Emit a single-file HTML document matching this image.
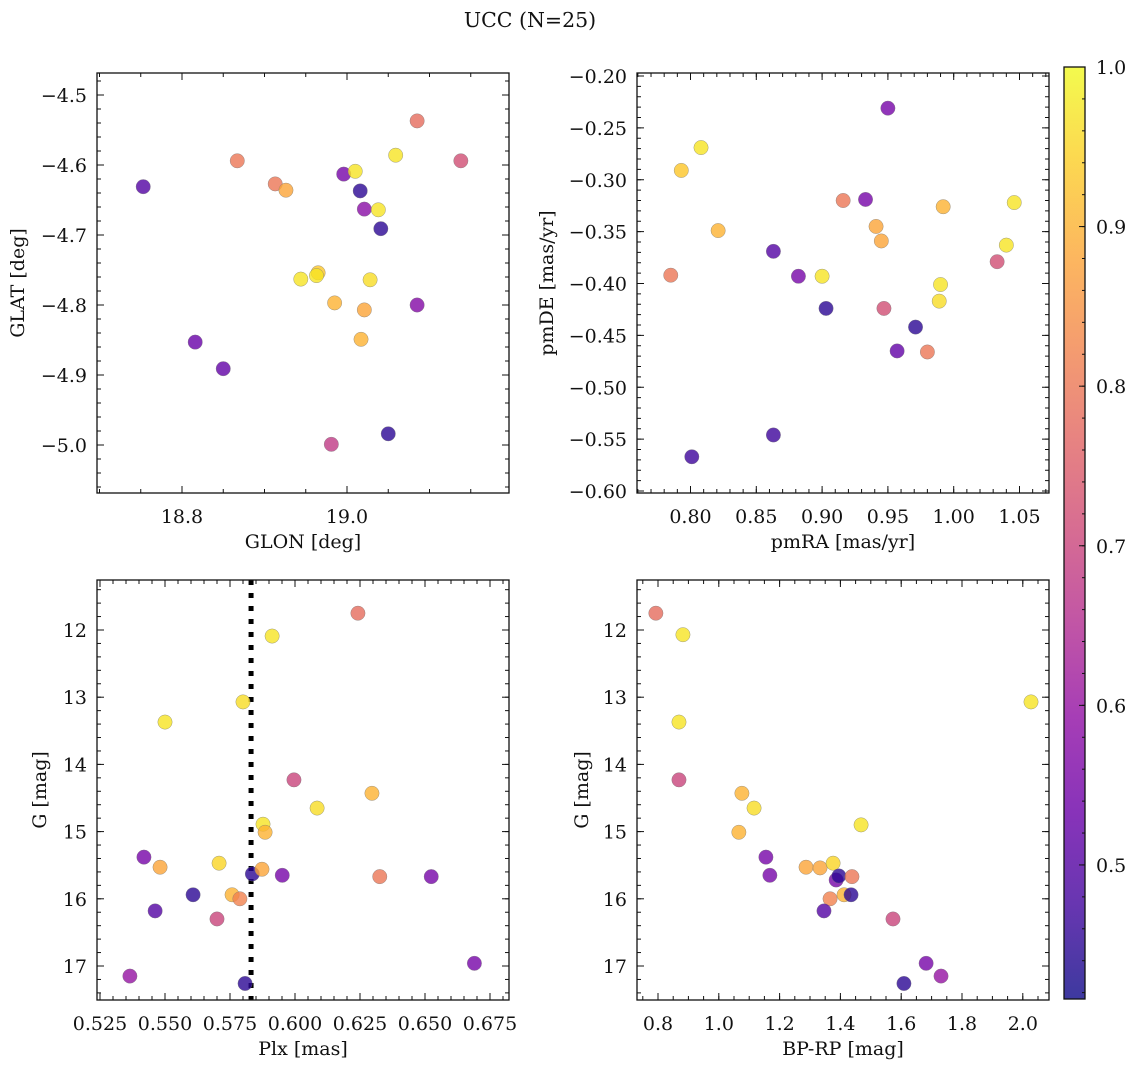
<!DOCTYPE html>
<html><head><meta charset="utf-8"><style>
html,body{margin:0;padding:0;background:#fff;}
svg text{font-family:"DejaVu Serif","Liberation Serif",serif;fill:#111;}
</style></head><body>
<svg id="fig" width="1136" height="1067" viewBox="0 0 1136 1067" xmlns="http://www.w3.org/2000/svg">
<text x="530" y="27" font-size="20.5" text-anchor="middle">UCC (N=25)</text>
<defs><linearGradient id="plasma" x1="0" y1="1" x2="0" y2="0"></linearGradient></defs>
</svg>
<script>
// ---- data ----
const p1_glon=[18.753,18.867,18.913,18.926,18.996,19.010,19.016,19.021,19.038,19.041,19.059,19.085,19.138,18.944,18.965,18.963,18.985,19.028,19.021,19.017,19.085,18.816,18.850,18.981,19.050];
const p1_glat=[-4.631,-4.594,-4.627,-4.636,-4.613,-4.609,-4.637,-4.663,-4.664,-4.691,-4.586,-4.537,-4.594,-4.763,-4.754,-4.758,-4.797,-4.764,-4.807,-4.849,-4.800,-4.853,-4.891,-4.999,-4.984];
const p1_c=[0.50,0.80,0.80,0.88,0.55,0.97,0.45,0.58,0.97,0.45,0.97,0.78,0.72,0.97,0.93,0.97,0.90,0.96,0.88,0.90,0.57,0.53,0.52,0.68,0.45];
const p2_pmra=[0.950,0.793,0.808,0.821,0.785,0.863,0.882,0.900,0.903,0.916,0.933,0.941,0.945,0.947,0.957,0.971,0.980,0.992,0.990,0.989,1.033,1.040,1.046,0.863,0.801];
const p2_pmde=[-0.231,-0.291,-0.269,-0.349,-0.392,-0.369,-0.393,-0.393,-0.424,-0.320,-0.319,-0.345,-0.359,-0.424,-0.465,-0.442,-0.466,-0.326,-0.401,-0.417,-0.379,-0.363,-0.322,-0.546,-0.567];
const p2_c=[0.55,0.93,0.97,0.90,0.80,0.50,0.55,0.97,0.45,0.80,0.55,0.88,0.88,0.72,0.52,0.45,0.80,0.90,0.97,0.96,0.72,0.97,0.97,0.47,0.47];
const p3_plx=[0.6242,0.5912,0.5800,0.5500,0.5996,0.6085,0.6296,0.5877,0.5885,0.5419,0.5481,0.5708,0.5608,0.5462,0.5700,0.5758,0.5788,0.5836,0.5873,0.5951,0.6326,0.6524,0.6690,0.5808,0.5365];
const p3_g=[11.75,12.09,13.07,13.37,14.23,14.65,14.43,14.89,15.01,15.38,15.53,15.47,15.94,16.18,16.30,15.94,16.00,15.63,15.56,15.65,15.67,15.67,16.96,17.26,17.15];
const p3_c=[0.78,0.97,0.96,0.97,0.70,0.96,0.90,0.97,0.90,0.55,0.88,0.95,0.45,0.50,0.70,0.90,0.82,0.45,0.88,0.55,0.80,0.55,0.55,0.45,0.60];
const p4_bprp=[0.793,0.882,0.869,0.869,1.076,1.116,1.066,1.155,1.168,1.287,1.333,1.376,1.386,1.395,1.366,1.412,1.435,1.438,1.346,1.573,1.468,2.027,1.609,1.682,1.731];
const p4_g=[11.75,12.07,13.37,14.23,14.43,14.65,15.01,15.38,15.65,15.53,15.54,15.47,15.72,15.66,16.00,15.94,15.94,15.67,16.18,16.30,14.90,13.07,17.26,16.96,17.15];
const p4_c=[0.78,0.97,0.97,0.70,0.90,0.96,0.90,0.55,0.55,0.88,0.88,0.95,0.55,0.45,0.82,0.90,0.45,0.80,0.50,0.70,0.97,0.97,0.45,0.55,0.60];
const plxLine=0.5831;
const cbTicks=[0.5,0.6,0.7,0.8,0.9,1.0];
const cMin=0.416, cMax=1.0;

const NS="http://www.w3.org/2000/svg";
const svg=document.getElementById('fig');
const FS=19;
function mk(tag,attrs,parent){const e=document.createElementNS(NS,tag);for(const k in attrs)e.setAttribute(k,attrs[k]);(parent||svg).appendChild(e);return e;}
const stops=[[0,[13,8,135]],[0.1,[65,4,157]],[0.2,[106,0,168]],[0.3,[143,13,164]],[0.4,[177,42,144]],[0.5,[204,71,120]],[0.6,[225,100,98]],[0.7,[242,132,75]],[0.8,[252,166,54]],[0.9,[252,206,37]],[1.0,[240,249,33]]];
function plasma(t){t=Math.max(0,Math.min(1,t));for(let i=1;i<stops.length;i++){if(t<=stops[i][0]){const a=stops[i-1],b=stops[i];const f=(t-a[0])/(b[0]-a[0]);const c=a[1].map((v,j)=>Math.round(v+(b[1][j]-v)*f));return `rgb(${c[0]},${c[1]},${c[2]})`;}}return 'rgb(240,249,33)';}
function cmap(c){return plasma((c-cMin)/(cMax-cMin));}
const grad=svg.querySelector('#plasma');
stops.forEach(s=>{const st=document.createElementNS(NS,'stop');st.setAttribute('offset',s[0]);st.setAttribute('stop-color',`rgb(${s[1].join(',')})`);grad.appendChild(st);});

function fmt(v,d){const s=Math.abs(v).toFixed(d);return (v<-1e-9?'\u2212':'')+s;}
function panel(o){
  const g=mk('g',{});
  
  
  const X=v=>o.L+(v-o.x0)/(o.x1-o.x0)*(o.R-o.L);
  const Y=v=>o.T+(v-o.y0)/(o.y1-o.y0)*(o.B-o.T);
  const tg=mk('g',{stroke:'#111','stroke-width':1},g);
  function ticksX(step,len,lab){const n0=Math.ceil(Math.min(o.x0,o.x1)/step-1e-6),n1=Math.floor(Math.max(o.x0,o.x1)/step+1e-6);for(let n=n0;n<=n1;n++){const v=n*step,x=X(v);mk('line',{x1:x,x2:x,y1:o.B,y2:o.B-len},tg);mk('line',{x1:x,x2:x,y1:o.T,y2:o.T+len},tg);if(lab){const t=mk('text',{x:x,y:o.B+30,'font-size':FS,'text-anchor':'middle'},g);t.textContent=fmt(v,o.xd);}}}
  function ticksY(step,len,lab){const lo=Math.min(o.y0,o.y1),hi=Math.max(o.y0,o.y1);const n0=Math.ceil(lo/step-1e-6),n1=Math.floor(hi/step+1e-6);for(let n=n0;n<=n1;n++){const v=n*step,y=Y(v);mk('line',{x1:o.L,x2:o.L+len,y1:y,y2:y},tg);mk('line',{x1:o.R,x2:o.R-len,y1:y,y2:y},tg);if(lab){const t=mk('text',{x:o.L-10,y:y+7,'font-size':FS,'text-anchor':'end'},g);t.textContent=fmt(v,o.yd);}}}
  ticksX(o.xmin,4,false);ticksX(o.xmaj,7,true);ticksY(o.ymin,4,false);ticksY(o.ymaj,7,true);
  if(o.vline!==undefined){const vl=mk('line',{x1:X(o.vline),x2:X(o.vline),y1:o.T,y2:o.B,stroke:'#000','stroke-width':5,'stroke-dasharray':'5,8'},g);}
  for(let i=0;i<o.xs.length;i++){const c=mk('circle',{cx:X(o.xs[i]),cy:Y(o.ys[i]),r:7.2,fill:cmap(o.cs[i]),'fill-opacity':0.8,stroke:'#777','stroke-width':0.5,'stroke-opacity':0.7},g);}
  const fr=mk('rect',{x:o.L,y:o.T,width:o.R-o.L,height:o.B-o.T,fill:'none',stroke:'#111','stroke-width':1.3},g);
  
  const xl=mk('text',{x:(o.L+o.R)/2,y:o.B+55,'font-size':FS,'text-anchor':'middle'},g);xl.textContent=o.xlab;
  
  const yl=mk('text',{x:0,y:0,'font-size':FS,'text-anchor':'middle',transform:`translate(${o.ylx},${(o.T+o.B)/2}) rotate(-90)`},g);yl.textContent=o.ylab;
  
}
panel({name:'glon-glat-panel',L:97,R:509,T:73,B:493,x0:18.8-85/825,x1:19.0+162/825,y0:-4.5+22/700,y1:-4.5-398/700,xmaj:0.2,xmin:0.05,ymaj:0.1,ymin:0.02,xd:1,yd:1,xs:p1_glon,ys:p1_glat,cs:p1_c,xlab:'GLON [deg]',ylab:'GLAT [deg]',ylx:24});
panel({name:'pm-panel',L:637,R:1049,T:73,B:493,x0:0.80-53.5/1316,x1:0.80+358.5/1316,y0:-0.20+3/1037.5,y1:-0.20-417/1037.5,xmaj:0.05,xmin:0.01,ymaj:0.05,ymin:0.01,xd:2,yd:2,xs:p2_pmra,ys:p2_pmde,cs:p2_c,xlab:'pmRA [mas/yr]',ylab:'pmDE [mas/yr]',ylx:553});
panel({name:'plx-g-panel',L:97,R:509,T:580,B:1000,x0:0.525-3/2600,x1:0.525+409/2600,y0:12-50/67.2,y1:12+370/67.2,xmaj:0.025,xmin:0.005,ymaj:1,ymin:0.2,xd:3,yd:0,xs:p3_plx,ys:p3_g,cs:p3_c,xlab:'Plx [mas]',ylab:'G [mag]',ylx:46,vline:plxLine});
panel({name:'cmd-panel',L:637,R:1049,T:580,B:1000,x0:0.8-21/304,x1:0.8+391/304,y0:12-50/67.2,y1:12+370/67.2,xmaj:0.2,xmin:0.05,ymaj:1,ymin:0.2,xd:1,yd:0,xs:p4_bprp,ys:p4_g,cs:p4_c,xlab:'BP-RP [mag]',ylab:'G [mag]',ylx:588});
// colorbar
const cb=mk('g',{});


const cT=67,cB=999,cL=1064,cR=1085;
const CY=v=>cB-(v-cMin)/(cMax-cMin)*(cB-cT);
mk('rect',{x:cL,y:cT,width:cR-cL,height:cB-cT,fill:'url(#plasma)','fill-opacity':0.8},cb);
mk('rect',{x:cL,y:cT,width:cR-cL,height:cB-cT,fill:'none',stroke:'#111','stroke-width':1.3},cb);
for(let n=Math.ceil(cMin/0.02);n<=Math.floor(cMax/0.02+1e-6);n++){const y=CY(n*0.02);mk('line',{x1:cR-3,x2:cR,y1:y,y2:y,stroke:'#111'},cb);}
cbTicks.forEach(v=>{const y=CY(v);mk('line',{x1:cR-6,x2:cR,y1:y,y2:y,stroke:'#111'},cb);const t=mk('text',{x:cR+11,y:y+7,'font-size':FS},cb);t.textContent=v.toFixed(1);

});
</script>
</body></html>
